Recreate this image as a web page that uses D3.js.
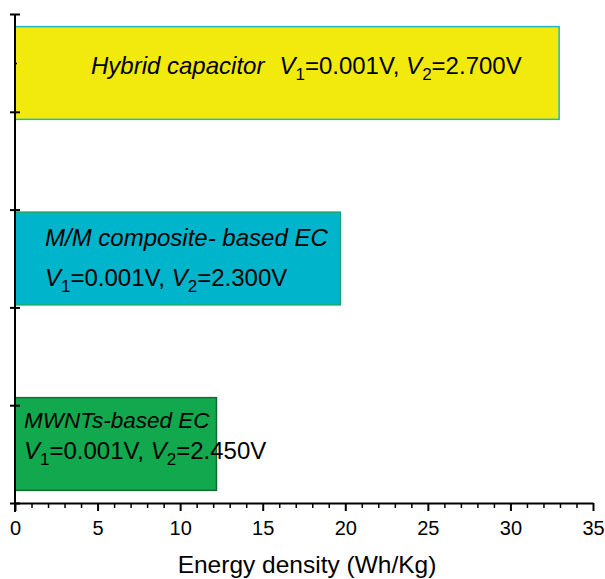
<!DOCTYPE html>
<html>
<head>
<meta charset="utf-8">
<script src="https://cdn.jsdelivr.net/npm/d3@7"></script>
<style>
body { margin: 0; background: #fff; }
svg text { font-family: "Liberation Sans", Arial, sans-serif; fill: #000; }
</style>
</head>
<body>
<svg></svg>
<script>
// data
const categories = ["Hybrid capacitor", "M/M composite- based EC", "MWNTs-based EC"];
const energyDensity = [32.95, 19.7, 12.2];
const v1Values = ["0.001V", "0.001V", "0.001V"];
const v2Values = ["2.700V", "2.300V", "2.450V"];
const barFills = ["#f2ea0c", "#00b4cc", "#12a84e"];
const barStrokes = ["#1ab8c8", "#1aa870", "#0b6e32"];
const xMajorTicks = [0, 5, 10, 15, 20, 25, 30, 35];
const xMinorTicks = d3.range(0, 36).filter(d => d % 5 !== 0);
const yMajorTicks = [0, 1, 2, 3, 4, 5];
const yMinorTicks = [4.5];

const width = 605;
const height = 579;

const svg = d3.select("svg")
	.attr("width", width)
	.attr("height", height);

const x = d3.scaleLinear().domain([0, 35]).range([15, 593]);
const yAxisScale = d3.scaleLinear().domain([0, 5]).range([503, 14]);
const y = d3.scaleBand()
	.domain(categories)
	.range([14, 503])
	.paddingInner(0.5)
	.paddingOuter(0.068);

const rows = categories.map((c, i) => ({
	name: c, value: energyDensity[i], v1: v1Values[i], v2: v2Values[i],
	fill: barFills[i], stroke: barStrokes[i]
}));

// bars
svg.selectAll(".bar")
	.data(rows)
	.join("rect")
	.attr("class", "bar")
	.attr("x", x(0))
	.attr("y", d => y(d.name))
	.attr("width", d => x(d.value) - x(0))
	.attr("height", y.bandwidth())
	.attr("fill", d => d.fill)
	.attr("stroke", d => d.stroke)
	.attr("stroke-width", 1.5);

// labels inside bars
function voltageText(sel, d, dx) {
	sel.append("tspan").attr("dx", dx || 0).attr("font-style", "italic").text("V");
	sel.append("tspan").attr("font-size", 17).attr("dy", 6).text("1");
	sel.append("tspan").attr("dy", -6).text("=" + d.v1 + ", ");
	sel.append("tspan").attr("font-style", "italic").text("V");
	sel.append("tspan").attr("font-size", 17).attr("dy", 6).text("2");
	sel.append("tspan").attr("dy", -6).text("=" + d.v2);
}

const rowHybrid = rows[0];
const t0 = svg.append("text")
	.attr("x", 91)
	.attr("y", y(rowHybrid.name) + 47)
	.attr("font-size", 24);
t0.append("tspan").attr("font-style", "italic").text(rowHybrid.name);
voltageText(t0, rowHybrid, 15);

const rowMM = rows[1];
svg.append("text")
	.attr("x", 45)
	.attr("y", y(rowMM.name) + 34)
	.attr("font-size", 24)
	.attr("font-style", "italic")
	.text(rowMM.name);
const t1 = svg.append("text")
	.attr("x", 45)
	.attr("y", y(rowMM.name) + 74)
	.attr("font-size", 24);
voltageText(t1, rowMM);

const rowMW = rows[2];
svg.append("text")
	.attr("x", 24)
	.attr("y", y(rowMW.name) + 30)
	.attr("font-size", 22.5)
	.attr("font-style", "italic")
	.text(rowMW.name);
const t2 = svg.append("text")
	.attr("x", 24)
	.attr("y", y(rowMW.name) + 61)
	.attr("font-size", 24);
voltageText(t2, rowMW);

// x axis
const xAxis = svg.append("g")
	.attr("transform", `translate(0,${yAxisScale(0)})`)
	.call(d3.axisBottom(x).tickValues(xMajorTicks).tickSize(8).tickSizeOuter(0).tickPadding(10));
xAxis.select(".domain").attr("stroke-width", 2);
xAxis.selectAll(".tick line").attr("stroke-width", 2);
xAxis.selectAll(".tick text")
	.attr("font-size", 20)
	.attr("font-family", "'Liberation Sans', Arial, sans-serif");

svg.append("g")
	.attr("transform", `translate(0,${yAxisScale(0)})`)
	.call(d3.axisBottom(x).tickValues(xMinorTicks).tickSize(5).tickSizeOuter(0).tickFormat(""))
	.call(g => g.select(".domain").remove())
	.selectAll(".tick line").attr("stroke-width", 1.5);

// y axis with crossing ticks
const yAxis = svg.append("g")
	.attr("transform", `translate(${x(0)},0)`)
	.call(d3.axisLeft(yAxisScale).tickValues(yMajorTicks).tickSize(5).tickSizeOuter(0).tickFormat(""));
yAxis.select(".domain")
	.attr("d", `M0,${yAxisScale(5)}V${yAxisScale(0) + 9}`)
	.attr("stroke-width", 2);
yAxis.selectAll(".tick line")
	.attr("x1", -5)
	.attr("x2", 5)
	.attr("stroke-width", 2);

svg.append("g")
	.attr("transform", `translate(${x(0)},0)`)
	.call(d3.axisRight(yAxisScale).tickValues(yMinorTicks).tickSize(2).tickFormat(""))
	.call(g => g.select(".domain").remove())
	.selectAll(".tick line").attr("stroke-width", 1.5);

// axis title
svg.append("text")
	.attr("x", (x(0) + x(35)) / 2 + 3)
	.attr("y", 573)
	.attr("text-anchor", "middle")
	.attr("font-size", 24.5)
	.text("Energy density (Wh/Kg)");
</script>
</body>
</html>
